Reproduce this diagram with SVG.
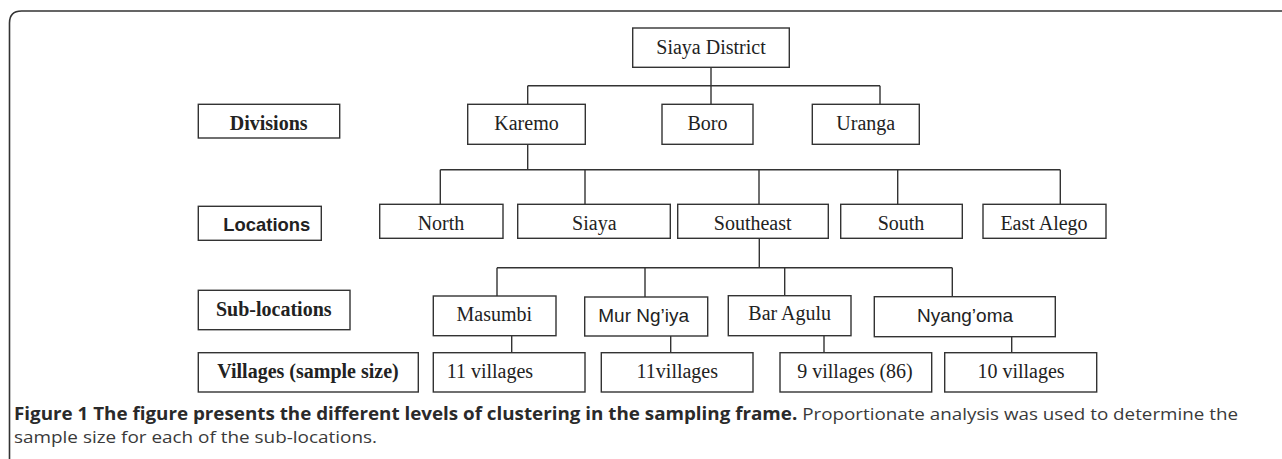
<svg xmlns="http://www.w3.org/2000/svg" width="1282" height="459" viewBox="0 0 1282 459">
<style>
.box{fill:#fff;stroke:#333;stroke-width:1.4}
.t{font-family:"Liberation Serif","Times New Roman",serif;font-size:20px;fill:#222;text-anchor:middle}
.ts-start{text-anchor:start}
.tb{font-family:"Liberation Serif","Times New Roman",serif;font-size:20px;font-weight:bold;fill:#222;text-anchor:middle}
.ts{font-family:"Liberation Sans",Arial,sans-serif;font-size:19px;fill:#222;text-anchor:middle}
.conn{fill:none;stroke:#333;stroke-width:1.4}
.cap{font-family:"Open Sans","Liberation Sans",sans-serif;font-size:17px;fill:#3a3a3a}
</style>
<rect width="1282" height="459" fill="#fff"/>
<path d="M9.5,459 V23 Q9.5,11 21.5,11 H1282" fill="none" stroke="#333" stroke-width="1.6"/>

<g id="connectors" class="conn">
<path d="M711,67.3 V85.7 M527.7,85.7 H880 M527.7,85.7 V104.3 M711,85.7 V104.3 M880,85.7 V104.3"/>
<path d="M527.7,144.3 V169.7 M440.3,169.7 H1060.3 M440.3,169.7 V204.3 M585,169.7 V204.3 M759,169.7 V204.3 M897.7,169.7 V204.3 M1060.3,169.7 V204.3"/>
<path d="M759.3,238.3 V267.7 M497,267.7 H952.3 M497,267.7 V296 M645,267.7 V297 M784.7,267.7 V295.7 M952.3,267.7 V296.7"/>
<path d="M511.7,335.7 V352.7 M670.7,336 V352.7 M824,335.7 V352.7 M1011.7,336.7 V352.7"/>
</g>

<g id="label-divisions"><rect class="box" x="198.3" y="104.3" width="141.4" height="33.7"/><text class="tb" x="268.7" y="130">Divisions</text></g>
<g id="label-locations"><rect class="box" x="198.3" y="206.3" width="123" height="34"/><text x="266.8" y="230.7" style="font-family:'Liberation Sans',Arial,sans-serif;font-size:18.4px;font-weight:bold;fill:#222;text-anchor:middle">Locations</text></g>
<g id="label-sublocations"><rect class="box" x="198.3" y="290.3" width="151.7" height="39.4"/><text class="tb" x="273.8" y="316">Sub-locations</text></g>
<g id="label-villages"><rect class="box" x="198.3" y="352.7" width="220" height="39.3"/><text class="tb" x="308" y="377.7">Villages (sample size)</text></g>

<g id="siaya-district"><rect class="box" x="632.7" y="28" width="156.6" height="39.3"/><text class="t" x="711" y="54.3">Siaya District</text></g>

<g id="karemo"><rect class="box" x="467.7" y="104.3" width="117.6" height="40"/><text class="t" x="526.5" y="130">Karemo</text></g>
<g id="boro"><rect class="box" x="662" y="104.3" width="91" height="40"/><text class="t" x="707.5" y="130">Boro</text></g>
<g id="uranga"><rect class="box" x="812.3" y="104.3" width="107" height="40"/><text class="t" x="865.8" y="130">Uranga</text></g>

<g id="north"><rect class="box" x="379.7" y="204.3" width="123.3" height="34"/><text class="t" x="441" y="230">North</text></g>
<g id="siaya"><rect class="box" x="517.7" y="204.3" width="152.6" height="34"/><text class="t" x="594.3" y="230">Siaya</text></g>
<g id="southeast"><rect class="box" x="677.7" y="204.3" width="150.6" height="34"/><text class="t" x="752.7" y="230">Southeast</text></g>
<g id="south"><rect class="box" x="840.7" y="204.3" width="121.6" height="34"/><text class="t" x="901" y="230">South</text></g>
<g id="east-alego"><rect class="box" x="983" y="204.3" width="123" height="34"/><text class="t" x="1044" y="230">East Alego</text></g>

<g id="masumbi"><rect class="box" x="433.3" y="296" width="122.7" height="39.7"/><text class="t" x="494.3" y="320.7">Masumbi</text></g>
<g id="mur-ngiya"><rect class="box" x="584.7" y="297" width="123" height="39"/><text class="ts" x="643.7" y="321.7">Mur Ng’iya</text></g>
<g id="bar-agulu"><rect class="box" x="728.3" y="295.7" width="122.7" height="40"/><text class="t" x="789.7" y="320">Bar Agulu</text></g>
<g id="nyangoma"><rect class="box" x="874.3" y="296.7" width="181" height="40"/><text class="ts" x="965" y="321.7">Nyang’oma</text></g>

<g id="v-masumbi"><rect class="box" x="433.3" y="352.7" width="151.7" height="39.3"/><text class="t ts-start" x="446.7" y="377.7">11 villages</text></g>
<g id="v-murngiya"><rect class="box" x="601.3" y="352.7" width="151.7" height="39.3"/><text class="t" x="677.3" y="377.7">11villages</text></g>
<g id="v-baragulu"><rect class="box" x="780" y="352.7" width="151.7" height="39.3"/><text class="t" x="855" y="377.7">9 villages (86)</text></g>
<g id="v-nyangoma"><rect class="box" x="944.7" y="352.7" width="152" height="39.3"/><text class="t" x="1021" y="377.7">10 villages</text></g>

<g id="caption">
<text class="cap" x="14" y="420" textLength="1224" lengthAdjust="spacingAndGlyphs"><tspan font-weight="bold" fill="#2a2a2a">Figure 1 The figure presents the different levels of clustering in the sampling frame.</tspan> Proportionate analysis was used to determine the</text>
<text class="cap" x="14" y="442.7" textLength="363" lengthAdjust="spacingAndGlyphs">sample size for each of the sub-locations.</text>
</g>
</svg>
